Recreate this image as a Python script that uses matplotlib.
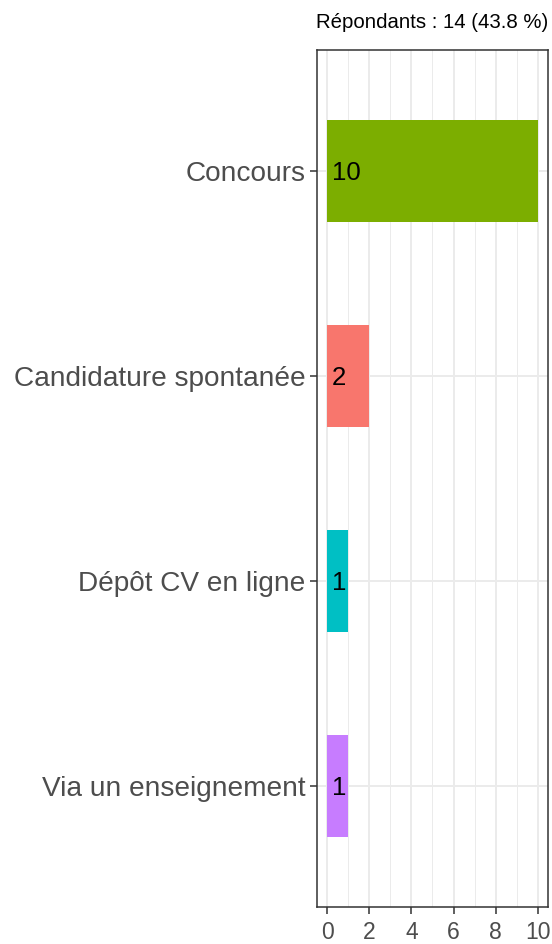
import matplotlib
matplotlib.use("Agg")
from matplotlib import pyplot as plt
from matplotlib.ticker import MultipleLocator

plt.rcParams['font.family'] = ['Liberation Sans', 'DejaVu Sans']

# data, top to bottom as shown
categories 	= ["Concours", "Candidature spontanée", "Dépôt CV en ligne", "Via un enseignement"]
counts 		= [10, 2, 1, 1]
colors 		= ["#7CAE00", "#F8766D", "#00BFC4", "#C77CFF"]
title 		= "Répondants : 14 (43.8 %)"
x_ticks 	= [0, 2, 4, 6, 8, 10]

fig = plt.figure(figsize=(5.52, 9.44), dpi=100)
ax = fig.add_axes([0.574, 0.0392, 0.419, 0.908])

positions = list(range(len(categories), 0, -1))
ax.barh(positions, counts, height=0.5, color=colors, zorder=3)
for pos, val in zip(positions, counts):
	ax.text(0.2, pos - 0.01, str(val), ha='left', va='center', fontsize=18.5, color='black', zorder=4)

ax.set_xlim(-0.5, 10.5)
ax.set_ylim(0.41, len(categories) + 0.59)
ax.set_yticks(positions)
ax.set_yticklabels(categories)
ax.set_xticks(x_ticks)
ax.xaxis.set_minor_locator(MultipleLocator(1))

ax.grid(which='major', color='#EBEBEB', linewidth=1.4, zorder=0)
ax.grid(which='minor', axis='x', color='#EBEBEB', linewidth=0.7, zorder=0)
ax.set_axisbelow(True)

for spine in ax.spines.values():
	spine.set_color('#333333')
	spine.set_linewidth(1.1)

ax.tick_params(axis='both', which='major', length=5, width=1.1, color='#333333', labelcolor='#4D4D4D')
ax.tick_params(axis='y', labelsize=20.2, pad=3)
ax.tick_params(axis='x', labelsize=16.5, pad=5)
ax.tick_params(which='minor', length=0)

fig.text(0.993, 1 - 23 / 944, title, ha='right', va='center', fontsize=14.7, color='black')

fig.savefig("out.png", dpi=100)
